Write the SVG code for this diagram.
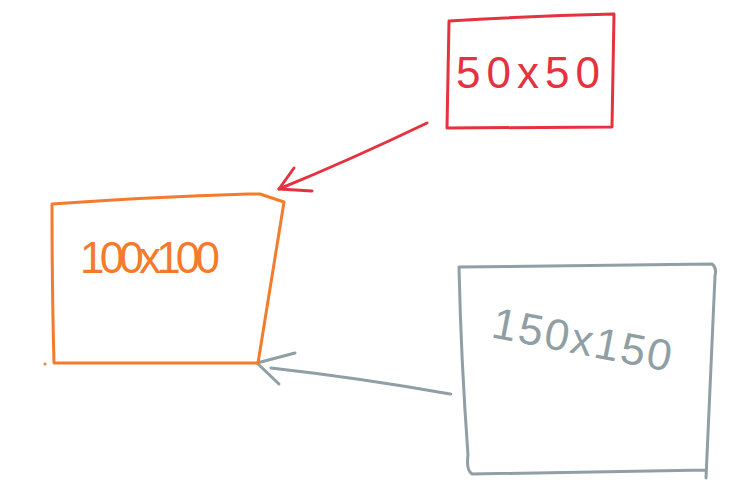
<svg xmlns="http://www.w3.org/2000/svg" width="733" height="491" viewBox="0 0 733 491">
<style>
.s{fill:none;stroke-width:3;stroke-linecap:round;stroke-linejoin:round}
.red{stroke:#e5323f}
.org{stroke:#f47a2c}
.gry{stroke:#909fa4}
.t{font-family:"Liberation Sans",Arial,sans-serif;font-size:44px}
</style>
<rect width="733" height="491" fill="#ffffff"/>
<g id="connectors">
<path class="s red" d="M427,123 Q350,160 279,189"/>
<path class="s red" d="M294,168 L279,189 L312,191"/>
<path class="s gry" d="M450,394 Q360,378 271,368"/>
<path class="s gry" d="M295,353 L257,363 L279,384"/>
</g>
<g id="node-50">
<path class="s red" d="M449,21 Q530,16 614,14 L612,127 L447,128 Z"/>
<text class="t" x="456" y="88" fill="#e5323f" textLength="144" lengthAdjust="spacing">50x50</text>
</g>
<g id="node-100">
<path class="s org" d="M52,204 Q150,197 248,194 L260,194 L284,202 L258,363 L54,363 Q52,290 52,204 Z"/>
<circle cx="45" cy="364" r="1.5" fill="#f47a2c"/>
<text class="t" x="80" y="273" fill="#f47a2c" textLength="140" lengthAdjust="spacing">100x100</text>
</g>
<g id="node-150">
<path class="s gry" d="M459,267 Q590,265 712,264 Q717,268 715,276 L706,478 M706,470 L472,474 Q466,470 468,455 Q461,360 459,267"/>
<circle cx="451" cy="394" r="1.3" fill="#909fa4"/>
<text class="t" x="490" y="337" fill="#909fa4" transform="rotate(11 490 337)" textLength="182" lengthAdjust="spacing">150x150</text>
</g>
</svg>
